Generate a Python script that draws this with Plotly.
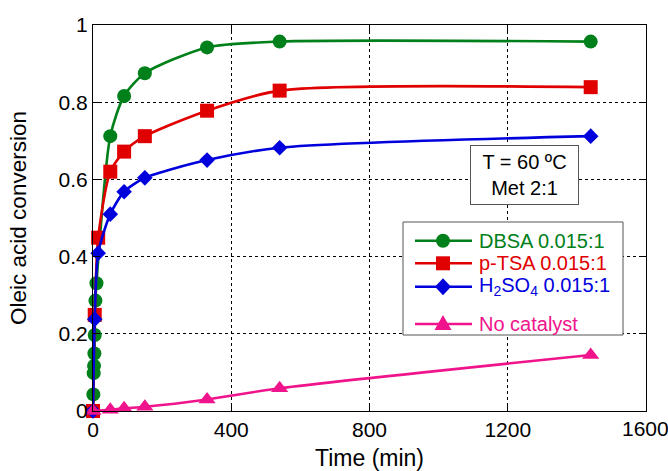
import plotly.graph_objects as go

# Reaction time (min) and oleic acid conversion for each catalyst
time_dbsa = [0, 1, 2, 3, 4, 5, 7, 10, 50, 90, 150, 330, 540, 1440]
conv_dbsa = [0, 0.043, 0.098, 0.117, 0.149, 0.197, 0.286, 0.331, 0.712, 0.816, 0.875, 0.942, 0.957, 0.957]

time_ptsa = [0, 5, 15, 50, 90, 150, 330, 540, 1440]
conv_ptsa = [0, 0.249, 0.449, 0.620, 0.672, 0.712, 0.778, 0.830, 0.839]

time_h2so4 = [0, 5, 15, 50, 90, 150, 330, 540, 1440]
conv_h2so4 = [0, 0.238, 0.409, 0.510, 0.568, 0.604, 0.650, 0.682, 0.712]

time_none = [0, 50, 90, 150, 330, 540, 1440]
conv_none = [0, 0.003, 0.007, 0.011, 0.030, 0.059, 0.145]

series_names = ["DBSA 0.015:1", "p-TSA 0.015:1",
                "H<sub>2</sub>SO<sub>4</sub> 0.015:1", "No catalyst"]
series_colors = ["#00801a", "#e00000", "#0000dd", "#f0148c"]
series_symbols = ["circle", "square", "diamond", "triangle-up"]
series_sizes = [14, 14, 12, 15]

x_ticks = [0, 400, 800, 1200, 1600]
x_tick_text = ["0", "400", "800", "1200", "1600"]
y_ticks = [0, 0.2, 0.4, 0.6, 0.8, 1]
y_tick_text = ["0", "0.2", "0.4", "0.6", "0.8", "1"]

FONT = "Liberation Sans, Arial, sans-serif"
W, H = 668, 471
ML, MR, MT, MB = 93, 22, 25, 60
PW, PH = W - ML - MR, H - MT - MB


def fx(px):
    """canvas pixel column -> fraction of the plotting area"""
    return (px - ML) / PW


def fy(py):
    """canvas pixel row -> fraction of the plotting area"""
    return (H - MB - py) / PH


data = [(time_dbsa, conv_dbsa), (time_ptsa, conv_ptsa),
        (time_h2so4, conv_h2so4), (time_none, conv_none)]

fig = go.Figure()
for (t, c), name, color, symbol, size in zip(data, series_names, series_colors,
                                             series_symbols, series_sizes):
    fig.add_trace(go.Scatter(
        x=t, y=c, name=name, mode="lines+markers",
        line=dict(color=color, width=2.6, shape="spline", smoothing=0.7),
        marker=dict(color=color, symbol=symbol, size=size),
        cliponaxis=False, showlegend=False,
    ))

axis_common = dict(
    showline=True, linecolor="black", linewidth=1.2, mirror="ticks",
    ticks="inside", ticklen=7, tickcolor="black",
    showgrid=True, gridcolor="black", gridwidth=1, griddash="3px,3px",
    zeroline=False, automargin=False,
    tickfont=dict(family=FONT, size=21, color="black"),
)

fig.update_xaxes(
    range=[0, 1600], tickvals=x_ticks,
    ticktext=x_tick_text[:-1] + [""],
    title=dict(text="Time (min)", font=dict(family=FONT, size=23, color="black"), standoff=11),
    **axis_common,
)
fig.update_yaxes(
    range=[0, 1], tickvals=y_ticks, ticktext=y_tick_text,
    title=dict(text="Oleic acid conversion", font=dict(family=FONT, size=22.5, color="black"), standoff=25),
    **axis_common,
)

# right-most tick label kept inside the canvas
fig.add_annotation(
    x=1, xref="paper", y=0, yref="paper", yanchor="top", yshift=-4, xanchor="right",
    xshift=25, text=x_tick_text[-1], showarrow=False,
    font=dict(family=FONT, size=21, color="black"),
)

# reaction conditions box
fig.add_annotation(
    x=fx(524.5), xref="paper", y=fy(175), yref="paper",
    xanchor="center", yanchor="middle",
    text="T = 60 ºC<br>Met 2:1", showarrow=False, align="center",
    font=dict(family=FONT, size=20, color="black"),
    bgcolor="white", bordercolor="#555", borderwidth=1, borderpad=0,
    width=107, height=58,
)

# legend: framed box, sample line + symbol and coloured label for each series
fig.add_shape(
    type="rect", xref="paper", yref="paper",
    x0=fx(403), x1=fx(623), y0=fy(335), y1=fy(222),
    fillcolor="white", line=dict(color="#555", width=1), layer="above",
)
legend_rows = [240.7, 263.3, 286.7, 324]
cx = 443
for row, name, color, symbol in zip(legend_rows, series_names, series_colors, series_symbols):
    fig.add_shape(type="line", xref="paper", yref="paper",
                  x0=fx(415), x1=fx(472), y0=fy(row), y1=fy(row),
                  line=dict(color=color, width=2.6), layer="above")
    if symbol == "circle":
        r = 7
        fig.add_shape(type="circle", xref="paper", yref="paper",
                      x0=fx(cx - r), x1=fx(cx + r), y0=fy(row + r), y1=fy(row - r),
                      fillcolor=color, line=dict(width=0), layer="above")
    elif symbol == "square":
        r = 7
        fig.add_shape(type="rect", xref="paper", yref="paper",
                      x0=fx(cx - r), x1=fx(cx + r), y0=fy(row + r), y1=fy(row - r),
                      fillcolor=color, line=dict(width=0), layer="above")
    elif symbol == "diamond":
        rx, ry = 8, 8.5
        path = (f"M {fx(cx - rx)} {fy(row)} L {fx(cx)} {fy(row - ry)} "
                f"L {fx(cx + rx)} {fy(row)} L {fx(cx)} {fy(row + ry)} Z")
        fig.add_shape(type="path", xref="paper", yref="paper", path=path,
                      fillcolor=color, line=dict(width=0), layer="above")
    else:
        rx, top, base = 8.5, 9, 6
        path = (f"M {fx(cx - rx)} {fy(row + base)} L {fx(cx)} {fy(row - top)} "
                f"L {fx(cx + rx)} {fy(row + base)} Z")
        fig.add_shape(type="path", xref="paper", yref="paper", path=path,
                      fillcolor=color, line=dict(width=0), layer="above")
    fig.add_annotation(
        x=fx(477), y=fy(row), xref="paper", yref="paper",
        xanchor="left", yanchor="middle", text=name, showarrow=False,
        font=dict(family=FONT, size=20, color=color),
    )

fig.update_layout(
    width=W, height=H,
    margin=dict(l=ML, r=MR, t=MT, b=MB),
    paper_bgcolor="white", plot_bgcolor="white",
    font=dict(family=FONT, color="black"),
    showlegend=False,
)

fig.write_html("out.html")
